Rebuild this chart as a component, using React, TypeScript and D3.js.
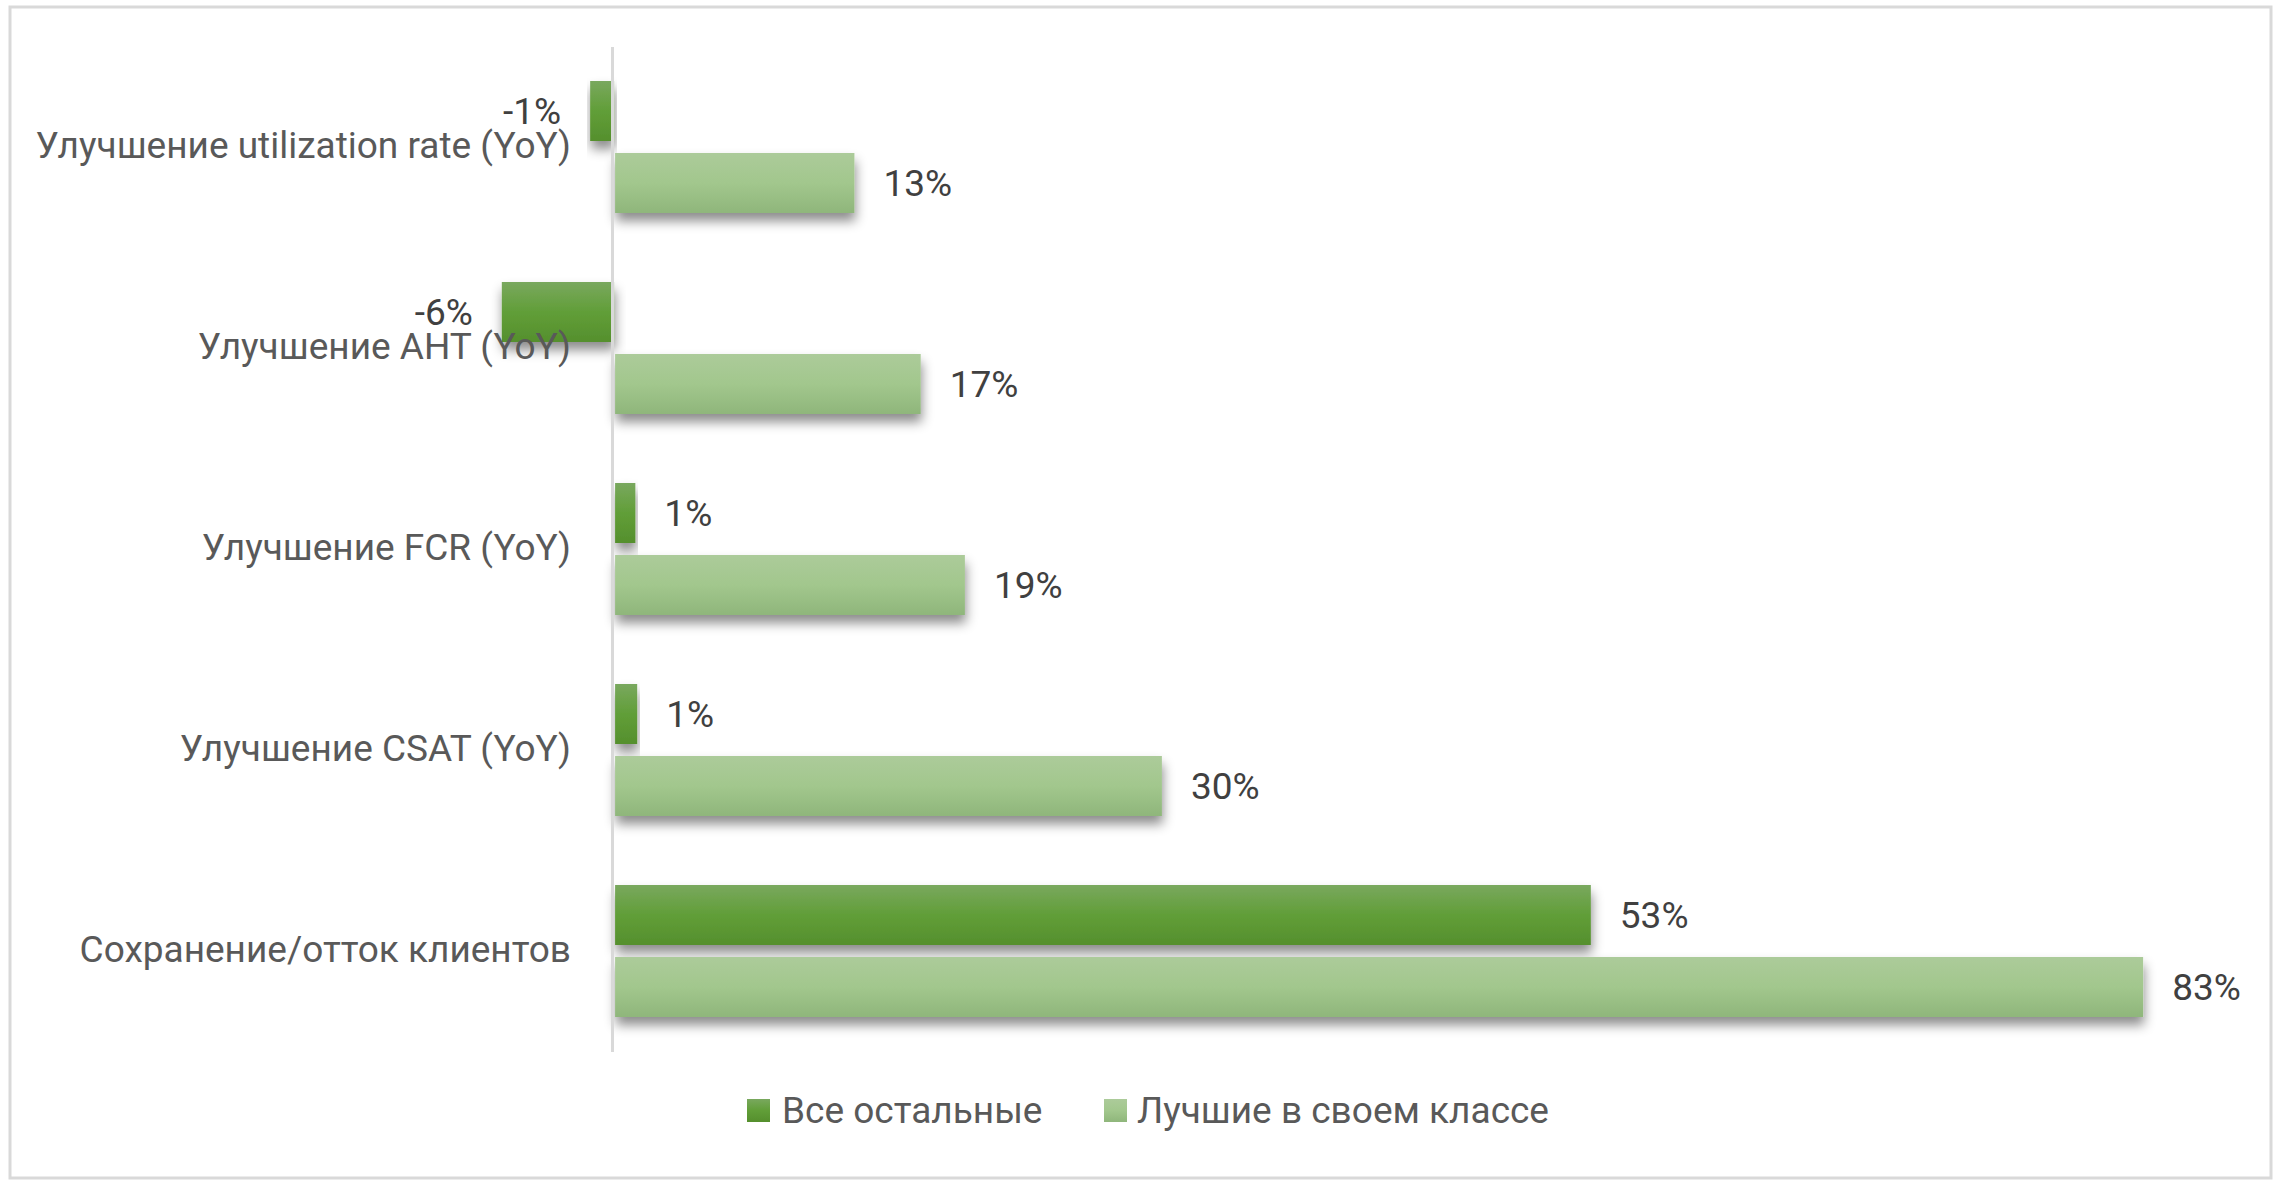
import React from "react";
import * as d3 from "d3";

const categories = [
  "Улучшение utilization rate (YoY)",
  "Улучшение AHT (YoY)",
  "Улучшение FCR (YoY)",
  "Улучшение CSAT (YoY)",
  "Сохранение/отток клиентов",
];
const seriesNames = ["Все остальные", "Лучшие в своем классе"];
const othersValues = [-0.013, -0.061, 0.011, 0.012, 0.53];
const bestValues = [0.13, 0.166, 0.19, 0.297, 0.83];
const xDomain = [-0.1, 0.9];

const W = 2286;
const H = 1190;
const FONT = "Roboto, 'Noto Sans', sans-serif";
const FS = 37;

const fmt = (v: number) => {
  const r = Math.round(v * 100);
  return (r < 0 ? "-" : "") + Math.abs(r) + "%";
};

export default function App() {
  const x = d3.scaleLinear().domain(xDomain).range([430, 2271]);
  const y0 = d3.scaleBand<string>().domain(categories).range([47, 1052]);
  const y1 = d3
    .scaleBand<string>()
    .domain(seriesNames)
    .range([34, 166])
    .paddingInner(1 / 6);
  const series = [
    { name: seriesNames[0], values: othersValues, grad: "gDark" },
    { name: seriesNames[1], values: bestValues, grad: "gLight" },
  ];
  const x0 = x(0);

  return (
    <svg
      width={W}
      height={H}
      style={{ position: "absolute", left: 0, top: 0, background: "#fff" }}
      fontFamily={FONT}
    >
      <defs>
        <linearGradient id="gDark" x1="0" y1="0" x2="0" y2="1">
          <stop offset="0" stopColor="#79a85e" />
          <stop offset="0.5" stopColor="#619e38" />
          <stop offset="1" stopColor="#558f2d" />
        </linearGradient>
        <linearGradient id="gLight" x1="0" y1="0" x2="0" y2="1">
          <stop offset="0" stopColor="#accb9a" />
          <stop offset="0.5" stopColor="#a2c78d" />
          <stop offset="1" stopColor="#8fb67b" />
        </linearGradient>
        <filter id="shadow" x="-10%" y="-30%" width="120%" height="180%">
          <feDropShadow dx="1" dy="8" stdDeviation="6" floodColor="#000" floodOpacity="0.45" />
        </filter>
      </defs>
      <rect x={0} y={0} width={W} height={H} fill="#fff" />
      <rect x={10} y={7} width={2261} height={1171} fill="#fff" stroke="#d9d9d9" strokeWidth={3} />

      {series.map((s) => (
        <g key={s.name}>
          {categories.map((c, i) => {
            const v = s.values[i];
            const yy = (y0(c) as number) + (y1(s.name) as number);
            const xa = v < 0 ? x(v) : x0 + 1;
            const w = Math.abs(x(v) - x0);
            return (
              <rect
                key={c}
                x={xa}
                y={yy}
                width={w}
                height={y1.bandwidth()}
                fill={`url(#${s.grad})`}
                filter="url(#shadow)"
              />
            );
          })}
        </g>
      ))}

      <line x1={612.5} x2={612.5} y1={47} y2={1052} stroke="#d9d9d9" strokeWidth={3} />

      {series.map((s) => (
        <g key={s.name + "-lbl"}>
          {categories.map((c, i) => {
            const v = s.values[i];
            const cy = (y0(c) as number) + (y1(s.name) as number) + y1.bandwidth() / 2;
            const neg = v < 0;
            return (
              <text
                key={c}
                x={neg ? x(v) - 29 : x(v) + 30}
                y={cy + 13}
                textAnchor={neg ? "end" : "start"}
                fontSize={FS}
                fill="#404040"
              >
                {fmt(v)}
              </text>
            );
          })}
        </g>
      ))}

      {categories.map((c) => (
        <text
          key={c}
          x={571}
          y={(y0(c) as number) + y0.bandwidth() / 2 + 10}
          textAnchor="end"
          fontSize={FS}
          fill="#595959"
        >
          {c}
        </text>
      ))}

      {series.map((s, i) => {
        const lx = [747, 1104][i];
        const tx = [782, 1137][i];
        return (
          <g key={s.name + "-leg"}>
            <rect x={lx} y={1099} width={23} height={23} fill={`url(#${s.grad})`} />
            <text x={tx} y={1123} fontSize={FS} fill="#595959">
              {s.name}
            </text>
          </g>
        );
      })}
    </svg>
  );
}
